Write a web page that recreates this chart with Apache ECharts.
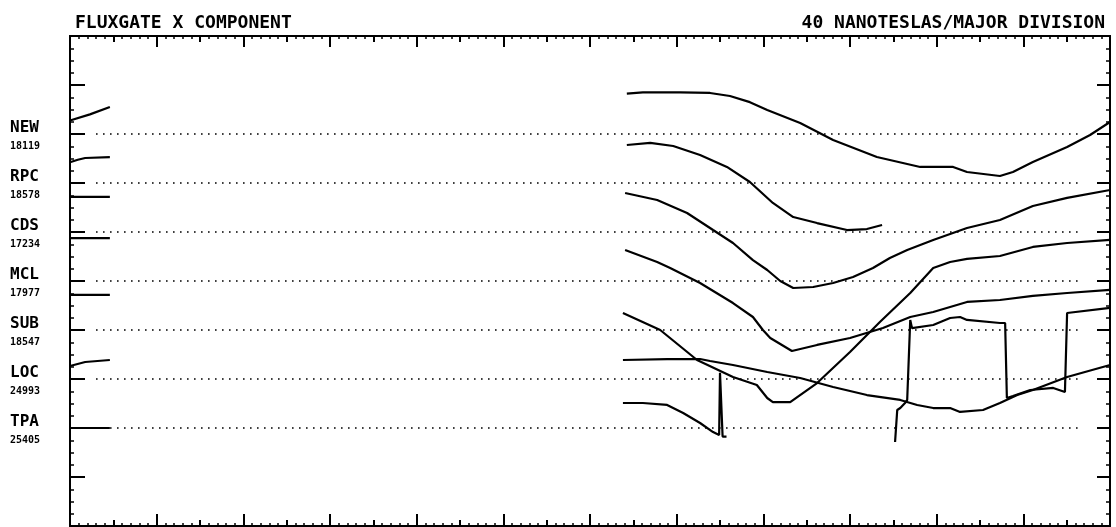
<!DOCTYPE html>
<html><head><meta charset="utf-8">
<script src="https://cdn.jsdelivr.net/npm/echarts@6/dist/echarts.min.js"></script>
<style>html,body{margin:0;padding:0;background:#fff}#c{width:1116px;height:527px}</style>
</head><body><div id="c"></div>
<script>
// ---- data ----
const stations   = ['NEW', 'RPC', 'CDS', 'MCL', 'SUB', 'LOC', 'TPA'];
const stationIds = ['18119', '18578', '17234', '17977', '18547', '24993', '25405'];
const baselineNT = [240, 200, 160, 120, 80, 40, 0];   // stacked baseline (nT)
const dottedSpan = [0.6, 23.3];                        // hours covered by dotted baselines
const titleLeft  = 'FLUXGATE X COMPONENT';
const titleRight = '40 NANOTESLAS/MAJOR DIVISION';

// traces: [hour, nT relative to station baseline]
const NEW_a = [[0,11],[0.46,16],[0.92,22]];
const NEW_b = [[12.85,33],[13.22,34],[14.08,34],[14.77,33.5],[15.23,31],[15.69,26],[16.09,19.6],[16.85,9],[17.61,-4.9],[18.62,-18.8],[19.62,-26.9],[20.38,-26.9],[20.70,-31],[21.46,-34.3],[21.76,-31],[22.22,-22.9],[23.01,-10.6],[23.54,-0.8],[24.0,9.8]];
const RPC_a = [[0,17],[0.18,19],[0.35,20.4],[0.92,21.2]];
const RPC_b = [[12.85,31],[13.39,32.7],[13.92,30.2],[14.54,22.9],[15.16,13.1],[15.69,0.8],[16.22,-16.3],[16.69,-27.8],[17.24,-32.7],[17.93,-38.4],[18.39,-37.6],[18.74,-34.3]];
const CDS_a = [[0,28.6],[0.92,28.6]];
const CDS_b = [[12.81,31.8],[13.55,26.1],[14.24,15.5],[14.84,1.6],[15.30,-9],[15.76,-22.9],[16.09,-31],[16.39,-40],[16.69,-45.7],[17.15,-44.9],[17.61,-41.6],[18.07,-36.7],[18.53,-29.4],[18.92,-21.2],[19.32,-14.7],[19.92,-6.5],[20.70,3.3],[21.46,9.8],[22.22,21.2],[23.01,27.8],[24.0,34.3]];
const MCL_a = [[0,35],[0.92,35]];
const MCL_b = [[12.81,25.3],[13.55,15.5],[13.85,10.6],[14.54,-1.6],[15.30,-18],[15.76,-29.4],[15.99,-40],[16.16,-46.5],[16.66,-57.1],[17.24,-52.2],[18.0,-46.5],[18.76,-38.4],[19.39,-29.4],[19.92,-25.3],[20.70,-17.1],[21.46,-15.5],[22.22,-12.2],[23.01,-9.8],[24.0,-7.3]];
const SUB_a = [[0,28.6],[0.92,28.6]];
const SUB_b = [[12.76,13.9],[13.62,0],[14.47,-24.5],[15.30,-38.4],[15.85,-44.9],[16.09,-55.5],[16.22,-58.8],[16.62,-58.8],[17.24,-43.3],[18.0,-18],[18.69,6.5],[19.39,30.2],[19.92,50.6],[20.31,55.5],[20.70,58],[21.46,60.4],[22.22,67.8],[23.01,71],[24.0,73.5]];
const LOC_a = [[0,10.6],[0.35,13.9],[0.92,15.5]];
const LOC_b = [[12.76,15.5],[13.78,16.3],[14.54,16.3],[14.77,14.7],[15.30,11.4],[16.09,5.7],[16.85,0.8],[17.61,-6.5],[18.39,-13.1],[19.16,-17.1],[19.55,-21.2],[19.92,-23.7],[20.31,-23.7],[20.54,-26.9],[21.07,-25.3],[21.46,-19.6],[21.86,-13.1],[22.22,-9],[23.01,1.6],[24.0,11.4]];
const TPA_a = [[0,0],[0.92,0]];
const TPA_b = [[12.76,20.4],[13.22,20.4],[13.78,18.8],[14.15,12.2],[14.54,4.1],[14.84,-3.3],[14.98,-5.7],[15.0,45],[15.04,45],[15.06,-7],[15.15,-7]];
const TPA_c = [[19.04,-11.4],[19.09,14.7],[19.16,16.3],[19.27,20.4],[19.32,22.9],[19.39,88.2],[19.43,81.6],[19.92,84.1],[20.31,89.8],[20.54,90.6],[20.70,88.2],[21.46,85.7],[21.58,85.7],[21.62,24.5],[21.76,26.1],[22.16,31],[22.69,32.7],[22.96,29.4],[23.01,93.9],[24.0,98]];

const traces = [
  [0, NEW_a], [0, NEW_b], [1, RPC_a], [1, RPC_b], [2, CDS_a], [2, CDS_b],
  [3, MCL_a], [3, MCL_b], [4, SUB_a], [4, SUB_b], [5, LOC_a], [5, LOC_b],
  [6, TPA_a], [6, TPA_b], [6, TPA_c]
];

// ---- chart ----
const BLACK = '#000';
const MONO = '"DejaVu Sans Mono", monospace';
const chart = echarts.init(document.getElementById('c'), null, {renderer: 'canvas'});

const xBase = (pos, interval, len, minor) => ({
  type: 'value', position: pos, min: 0, max: 24, interval: interval,
  axisLabel: {show: false}, splitLine: {show: false},
  axisLine: {show: true, onZero: false, lineStyle: {color: BLACK, width: 2}},
  axisTick: {show: true, inside: true, length: len, lineStyle: {color: BLACK, width: 2}},
  minorTick: {show: minor, splitNumber: 5, length: 3, lineStyle: {color: BLACK, width: 1.5}},
  minorSplitLine: {show: false}
});

const yBase = (pos, len, labels) => ({
  type: 'value', position: pos, min: -80, max: 320, interval: 40,
  splitLine: {show: false},
  axisLine: {show: true, onZero: false, lineStyle: {color: BLACK, width: 2}},
  axisTick: {show: true, inside: true, length: len, lineStyle: {color: BLACK, width: 2}},
  minorTick: {show: true, splitNumber: 4, length: 4, lineStyle: {color: BLACK, width: 1.5}},
  axisLabel: labels ? {
    show: true, margin: 60, align: 'left', verticalAlign: 'middle',
    padding: [9, 0, 0, 0],
    formatter: function (v) {
      const i = baselineNT.indexOf(v);
      return i < 0 ? '' : '{n|' + stations[i] + '}\n{i|' + stationIds[i] + '}';
    },
    rich: {
      n: {fontFamily: MONO, fontSize: 16, fontWeight: 'bold', color: BLACK, lineHeight: 15},
      i: {fontFamily: MONO, fontSize: 10, fontWeight: 'bold', color: BLACK, lineHeight: 21}
    }
  } : {show: false}
});

const series = [];
baselineNT.forEach(function (b) {
  series.push({
    type: 'line', silent: true, showSymbol: false, xAxisIndex: 0, yAxisIndex: 0,
    data: [[dottedSpan[0], b], [dottedSpan[1], b]],
    lineStyle: {color: BLACK, width: 1.6, type: [1.6, 5.4]}
  });
});
traces.forEach(function (t) {
  const off = baselineNT[t[0]];
  series.push({
    type: 'line', silent: true, showSymbol: false, xAxisIndex: 0, yAxisIndex: 0,
    data: t[1].map(function (p) { return [p[0], p[1] + off]; }),
    lineStyle: {color: BLACK, width: 2.2}
  });
});

chart.setOption({
  animation: false,
  backgroundColor: '#fff',
  title: [
    {text: titleLeft, left: 70, top: 9, textStyle: {fontFamily: MONO, fontSize: 18, fontWeight: 'bold', color: BLACK}},
    {text: titleRight, right: 6, top: 9, textStyle: {fontFamily: MONO, fontSize: 18, fontWeight: 'bold', color: BLACK}}
  ],
  grid: {left: 70, right: 6, top: 36, bottom: 1, containLabel: false},
  xAxis: [
    xBase('bottom', 2, 12, false),
    xBase('bottom', 1, 6, true),
    xBase('top', 2, 11, false),
    xBase('top', 1, 6, true)
  ],
  yAxis: [
    yBase('left', 15, true),
    yBase('right', 13, false)
  ],
  series: series
});
</script>
</body></html>
